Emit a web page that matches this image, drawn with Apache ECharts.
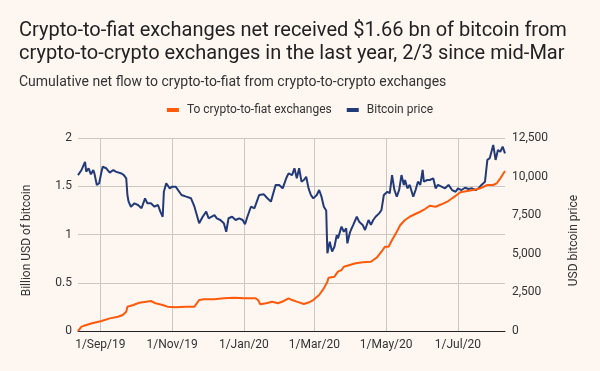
<!DOCTYPE html>
<html>
<head>
<meta charset="utf-8">
<script src="https://cdn.jsdelivr.net/npm/echarts@6/dist/echarts.min.js"></script>
<style>
  html, body { margin: 0; padding: 0; background: #fef7f1; }
  #chart { width: 600px; height: 371px; }
</style>
</head>
<body>
<div id="chart"></div>
<script>
// ---- Data ----
const startDate = '2019-08-13';
const endDate = '2020-08-10';

const tickDates = ['2019-09-01', '2019-11-01', '2020-01-01', '2020-03-01', '2020-05-01', '2020-07-01'];
const tickLabels = ['1/Sep/19', '1/Nov/19', '1/Jan/20', '1/Mar/20', '1/May/20', '1/Jul/20'];

const flowDates = ['2019-08-13','2019-08-16','2019-08-20','2019-08-25','2019-09-02','2019-09-09','2019-09-16','2019-09-20','2019-09-23','2019-09-24','2019-09-29','2019-10-04','2019-10-10','2019-10-14','2019-10-18','2019-10-24','2019-10-28','2019-11-04','2019-11-13','2019-11-20','2019-11-24','2019-11-28','2019-12-07','2019-12-15','2019-12-24','2020-01-01','2020-01-11','2020-01-13','2020-01-15','2020-01-20','2020-01-25','2020-01-30','2020-02-04','2020-02-08','2020-02-11','2020-02-15','2020-02-21','2020-02-25','2020-02-29','2020-03-05','2020-03-09','2020-03-12','2020-03-13','2020-03-18','2020-03-21','2020-03-24','2020-03-26','2020-03-31','2020-04-05','2020-04-11','2020-04-18','2020-04-20','2020-04-23','2020-04-28','2020-04-30','2020-05-03','2020-05-06','2020-05-10','2020-05-13','2020-05-17','2020-05-21','2020-05-27','2020-05-30','2020-06-03','2020-06-07','2020-06-12','2020-06-17','2020-06-22','2020-06-26','2020-06-30','2020-07-03','2020-07-09','2020-07-14','2020-07-20','2020-07-26','2020-07-31','2020-08-03','2020-08-06','2020-08-10'];
const flowValues = [0.0,0.045,0.062,0.08,0.104,0.131,0.148,0.166,0.2,0.252,0.27,0.293,0.304,0.311,0.287,0.27,0.252,0.245,0.252,0.252,0.321,0.328,0.33,0.339,0.345,0.339,0.339,0.321,0.277,0.287,0.304,0.287,0.311,0.339,0.321,0.304,0.28,0.295,0.321,0.373,0.442,0.511,0.552,0.563,0.615,0.632,0.666,0.684,0.702,0.712,0.718,0.736,0.76,0.839,0.874,0.874,0.943,1.029,1.098,1.15,1.184,1.22,1.236,1.264,1.298,1.288,1.313,1.34,1.375,1.409,1.437,1.451,1.461,1.479,1.513,1.513,1.531,1.582,1.658];

const priceDates = ['2019-08-13','2019-08-16','2019-08-19','2019-08-20','2019-08-22','2019-08-24','2019-08-26','2019-08-27','2019-08-29','2019-08-31','2019-09-02','2019-09-03','2019-09-06','2019-09-09','2019-09-12','2019-09-14','2019-09-19','2019-09-21','2019-09-23','2019-09-24','2019-09-25','2019-09-27','2019-09-30','2019-10-03','2019-10-06','2019-10-09','2019-10-11','2019-10-14','2019-10-17','2019-10-20','2019-10-22','2019-10-24','2019-10-25','2019-10-27','2019-10-30','2019-11-01','2019-11-04','2019-11-09','2019-11-13','2019-11-17','2019-11-20','2019-11-24','2019-11-27','2019-11-30','2019-12-02','2019-12-07','2019-12-09','2019-12-12','2019-12-15','2019-12-17','2019-12-19','2019-12-22','2019-12-25','2019-12-28','2019-12-31','2020-01-02','2020-01-04','2020-01-07','2020-01-10','2020-01-12','2020-01-14','2020-01-18','2020-01-21','2020-01-24','2020-01-28','2020-01-31','2020-02-03','2020-02-06','2020-02-08','2020-02-11','2020-02-13','2020-02-15','2020-02-17','2020-02-19','2020-02-21','2020-02-23','2020-02-25','2020-02-27','2020-02-29','2020-03-03','2020-03-05','2020-03-07','2020-03-09','2020-03-10','2020-03-11','2020-03-12','2020-03-14','2020-03-16','2020-03-18','2020-03-20','2020-03-21','2020-03-24','2020-03-26','2020-03-28','2020-03-29','2020-03-31','2020-04-01','2020-04-03','2020-04-06','2020-04-08','2020-04-11','2020-04-13','2020-04-16','2020-04-18','2020-04-20','2020-04-22','2020-04-25','2020-04-27','2020-04-29','2020-05-02','2020-05-04','2020-05-06','2020-05-08','2020-05-10','2020-05-12','2020-05-14','2020-05-16','2020-05-17','2020-05-19','2020-05-21','2020-05-24','2020-05-26','2020-05-28','2020-05-30','2020-06-01','2020-06-02','2020-06-05','2020-06-07','2020-06-10','2020-06-12','2020-06-14','2020-06-17','2020-06-20','2020-06-23','2020-06-26','2020-06-29','2020-07-01','2020-07-04','2020-07-07','2020-07-10','2020-07-13','2020-07-16','2020-07-18','2020-07-21','2020-07-24','2020-07-26','2020-07-28','2020-07-31','2020-08-02','2020-08-04','2020-08-06','2020-08-08','2020-08-10'];
const priceValues = [10100,10430,10960,10320,10540,10150,10430,10190,9460,9570,10320,10640,10540,10260,10430,10320,10200,10100,9890,8810,8380,8050,8270,8160,7950,8590,8270,8270,8050,8160,7730,7400,9020,9570,9240,9350,9350,8810,8700,8600,8050,6980,7400,7730,7300,7510,7300,7190,6980,6430,7300,7400,7190,7300,7190,6910,7400,8050,7950,8380,8810,8850,8600,8380,9460,9460,9240,9890,10210,10100,10540,9890,10540,9670,9780,9990,9240,8810,8590,8810,9130,8700,8050,7950,7800,5030,5780,5140,5460,6220,6000,6760,6430,6650,5680,6330,6540,6870,7400,7080,6870,6540,7190,6870,7190,7400,7620,7840,8810,9020,8920,10100,9130,8700,9130,10100,9460,9780,9240,9460,8700,9130,9670,9460,10430,9670,9780,9780,9890,9240,9460,9350,9240,9460,9130,9020,9240,9130,9280,9200,9240,9130,9200,9460,9670,11080,11190,12050,11080,11720,11610,11940,11500];

// ---- Build the daily category axis ----
const days = [];
for (let t = Date.parse(startDate + 'T00:00:00Z'); t <= Date.parse(endDate + 'T00:00:00Z'); t += 86400000) {
  days.push(new Date(t).toISOString().slice(0, 10));
}
function toSeries(dates, values) {
  const arr = days.map(() => null);
  dates.forEach((d, i) => { const k = days.indexOf(d); if (k >= 0) arr[k] = values[i]; });
  return arr;
}
const isTick = (idx, val) => tickDates.indexOf(val) >= 0;

const FONT = 'Roboto';
const chart = echarts.init(document.getElementById('chart'), null, { renderer: 'canvas' });
chart.setOption({
  backgroundColor: '#fef7f1',
  animation: false,
  title: [
    {
      text: 'Crypto-to-fiat exchanges net received $1.66 bn of bitcoin from\ncrypto-to-crypto exchanges in the last year, 2/3 since mid-Mar',
      left: 19, top: 19, padding: 0,
      textStyle: { fontFamily: FONT, fontSize: 20, fontWeight: 'normal', color: '#222', lineHeight: 23.5 }
    },
    {
      text: 'Cumulative net flow to crypto-to-fiat from crypto-to-crypto exchanges',
      left: 19, top: 74, padding: 0,
      textStyle: { fontFamily: FONT, fontSize: 14, fontWeight: 'normal', color: '#333', lineHeight: 16 }
    }
  ],
  legend: {
    top: 104, left: 'center', padding: 0,
    icon: 'rect', itemWidth: 12, itemHeight: 4, itemGap: 15,
    textStyle: { fontFamily: FONT, fontSize: 12, color: '#333', padding: [0, 0, 0, 3] },
    data: ['To crypto-to-fiat exchanges', 'Bitcoin price']
  },
  grid: { left: 78, right: 95, top: 138, bottom: 40, containLabel: false },
  xAxis: {
    type: 'category', data: days, boundaryGap: false,
    axisLine: { lineStyle: { color: '#222', width: 1 } },
    axisTick: { show: false },
    axisLabel: {
      interval: isTick, margin: 8,
      fontFamily: FONT, fontSize: 12, color: '#333',
      formatter: (v) => tickLabels[tickDates.indexOf(v)] || ''
    },
    splitLine: { show: true, interval: isTick, lineStyle: { color: '#cdc7c2', width: 1 } }
  },
  yAxis: [
    {
      type: 'value', min: 0, max: 2, interval: 0.5,
      name: 'Billion USD of bitcoin', nameLocation: 'middle', nameGap: 45,
      nameTextStyle: { fontFamily: FONT, fontSize: 12, color: '#333', padding: [0, 12, 0, 0] },
      axisLine: { show: false }, axisTick: { show: false },
      axisLabel: { margin: 6, fontFamily: FONT, fontSize: 12, color: '#333' },
      splitLine: { lineStyle: { color: '#cdc7c2', width: 1 } }
    },
    {
      type: 'value', min: 0, max: 12500, interval: 2500, position: 'right',
      name: 'USD bitcoin price', nameLocation: 'middle', nameGap: 63,
      nameTextStyle: { fontFamily: FONT, fontSize: 12, color: '#333', padding: [0, 12, 0, 0] },
      axisLine: { show: false }, axisTick: { show: false },
      axisLabel: { margin: 7, fontFamily: FONT, fontSize: 12, color: '#333',
        formatter: (v) => v.toLocaleString('en-US') },
      splitLine: { show: false }
    }
  ],
  series: [
    {
      name: 'To crypto-to-fiat exchanges', type: 'line', yAxisIndex: 0,
      data: toSeries(flowDates, flowValues), connectNulls: true,
      showSymbol: false, symbol: 'none', color: '#ff5a0a',
      lineStyle: { color: '#ff5a0a', width: 2 }, z: 3
    },
    {
      name: 'Bitcoin price', type: 'line', yAxisIndex: 1,
      data: toSeries(priceDates, priceValues), connectNulls: true,
      showSymbol: false, symbol: 'none', color: '#223a78',
      lineStyle: { color: '#223a78', width: 2 }, z: 2
    }
  ]
});
</script>
</body>
</html>
